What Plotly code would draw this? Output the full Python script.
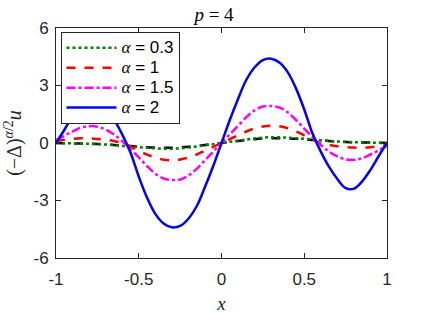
import plotly.graph_objects as go

# x grid (right half; left half from odd symmetry as read)
x_half = [0.0, 0.05, 0.10, 0.15, 0.20, 0.25, 0.30, 0.35, 0.40, 0.45, 0.50,
          0.55, 0.60, 0.65, 0.70, 0.75, 0.80, 0.85, 0.90, 0.95, 1.0]

alpha2_half = [0.0, 1.2, 2.3, 3.3, 3.95, 4.33, 4.4, 4.2, 3.7, 2.85, 1.75,
               0.5, -0.45, -1.25, -1.88, -2.35, -2.38, -2.0, -1.4, -0.68, 0.0]
alpha15_half = [0.0, 0.45, 0.9, 1.35, 1.7, 1.9, 1.93, 1.85, 1.6, 1.2, 0.75,
                0.3, -0.1, -0.45, -0.7, -0.85, -0.88, -0.8, -0.6, -0.38, -0.15]
alpha1_half = [0.0, 0.2, 0.4, 0.6, 0.76, 0.86, 0.9, 0.87, 0.77, 0.6, 0.4,
               0.18, 0.0, -0.1, -0.17, -0.21, -0.24, -0.25, -0.22, -0.17, -0.1]
alpha03_half = [0.0, 0.06, 0.12, 0.18, 0.24, 0.28, 0.3, 0.3, 0.28, 0.25, 0.22,
                0.18, 0.15, 0.11, 0.08, 0.06, 0.04, 0.03, 0.02, 0.01, 0.0]
ref_half = [0.0, 0.05, 0.10, 0.15, 0.20, 0.23, 0.25, 0.25, 0.24, 0.22, 0.19,
            0.16, 0.13, 0.10, 0.07, 0.05, 0.04, 0.03, 0.02, 0.01, 0.0]

alpha_values = ["0.3", "1", "1.5", "2"]
x_ticks = [-1, -0.5, 0, 0.5, 1]
y_ticks = [-6, -3, 0, 3, 6]

SERIF = "Liberation Serif, Times New Roman, serif"
SANS = "Liberation Sans, Arial, sans-serif"


def full(h):
    return [-v for v in h[:0:-1]] + list(h)


x_full = [-v for v in x_half[:0:-1]] + list(x_half)

fig = go.Figure()
fig.add_trace(go.Scatter(x=x_full, y=full(ref_half), mode="lines", showlegend=False,
                         line=dict(color="black", width=2.5, dash="dash", shape="spline")))
series = [
    (alpha03_half, "#008000", "dot"),
    (alpha1_half, "#ff0000", "dash"),
    (alpha15_half, "#ff00ff", "dashdot"),
    (alpha2_half, "#0000ff", "solid"),
]
for (h, c, d), a in zip(series, alpha_values):
    lab = ("<span style='font-size:17px'><span style='font-family:Liberation Serif'><i>α</i></span> = "
           + a + "</span>")
    fig.add_trace(go.Scatter(x=x_full, y=full(h), mode="lines", name=lab,
                             line=dict(color=c, width=2.5, dash=d, shape="spline")))

axis_common = dict(showgrid=False, zeroline=False, showline=True, mirror="ticks",
                   linecolor="#262626", linewidth=1, ticks="inside", ticklen=5,
                   tickcolor="#262626", automargin=False,
                   tickfont=dict(family=SANS, size=17, color="#262626"))
fig.update_xaxes(range=[-1, 1], tickvals=x_ticks, ticktext=[str(v) for v in x_ticks],
                 ticklabelstandoff=6,
                 title=dict(text="<i>x</i>", font=dict(family=SERIF, size=19, color="#262626"), standoff=8),
                 **axis_common)
fig.update_yaxes(range=[-6, 6], tickvals=y_ticks, ticktext=[str(v) for v in y_ticks],
                 ticklabelstandoff=3,
                 title=dict(text="(−Δ)<sup><i>α</i>/2</sup><i>u</i>", font=dict(family=SERIF, size=20, color="#262626"), standoff=6),
                 **axis_common)

fig.update_layout(
    width=428, height=314,
    margin=dict(l=55.5, r=41, t=28, b=56),
    paper_bgcolor="white", plot_bgcolor="white",
    title=dict(text="<i>p</i> = 4", x=0.5, xanchor="center", y=1 - 14 / 314, yanchor="middle",
               font=dict(family=SERIF, size=19, color="black")),
    legend=dict(x=0.0136, y=0.983, xanchor="left", yanchor="top",
                bordercolor="#262626", borderwidth=1, bgcolor="white",
                font=dict(family=SANS, size=13, color="black"),
                tracegroupgap=0, itemwidth=50),
    showlegend=True,
)

fig.write_html("out.html", config={"displayModeBar": False},
               post_script="document.body.style.margin='0';")
